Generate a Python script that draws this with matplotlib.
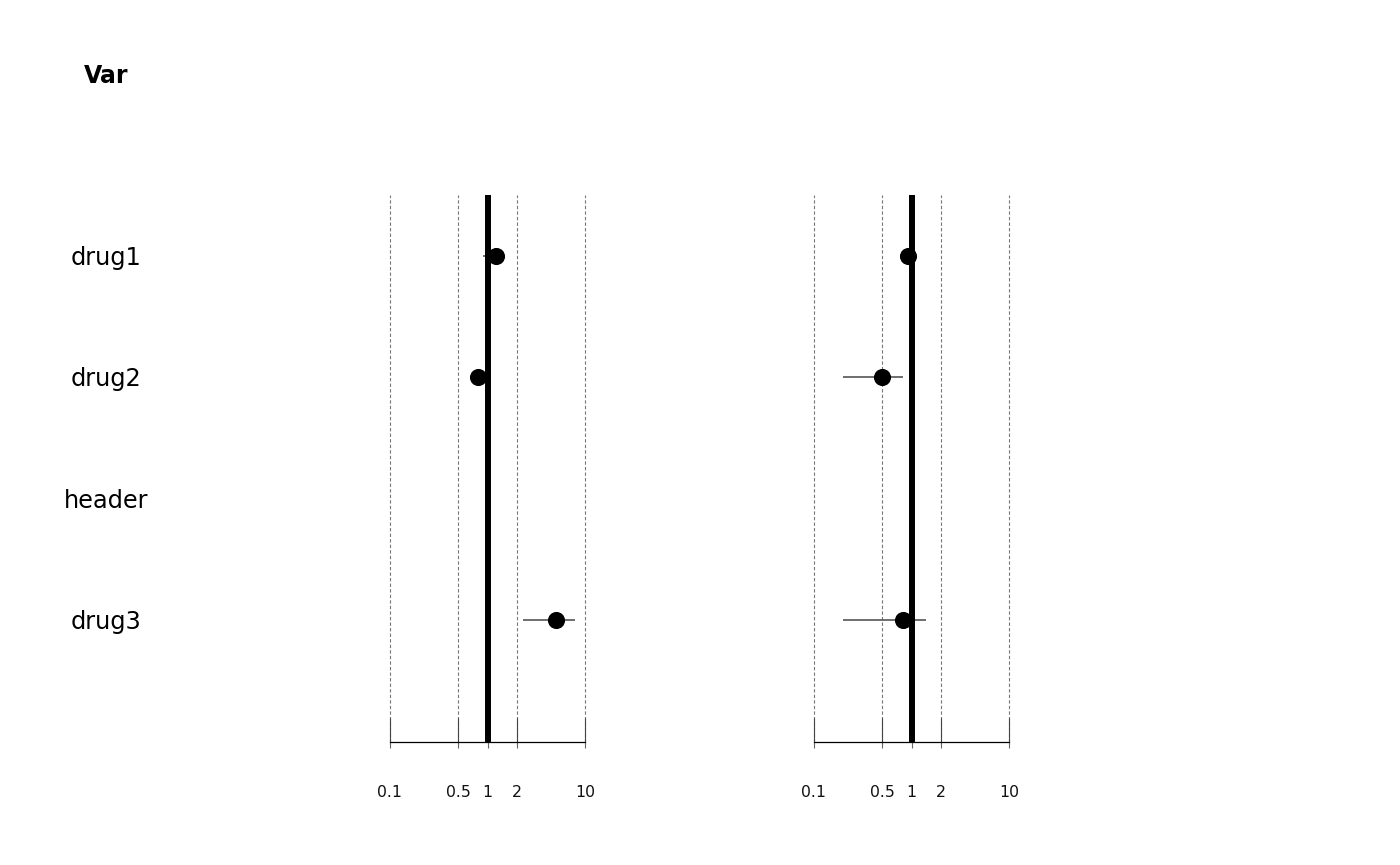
import matplotlib
matplotlib.use("Agg")
import matplotlib.pyplot as plt
import matplotlib.transforms as mtransforms
import numpy as np

# forest plot data
labels = ["drug1", "drug2", "header", "drug3"]
header = "Var"

est_left = [1.21, 0.80, np.nan, 5.04]
lo_left = [0.90, 0.74, np.nan, 2.33]
hi_left = [1.49, 0.88, np.nan, 7.84]

est_right = [0.91, 0.50, np.nan, 0.81]
lo_right = [0.86, 0.20, np.nan, 0.20]
hi_right = [1.04, 0.81, np.nan, 1.42]

xticks = [0.1, 0.5, 1, 2, 10]
xtick_labels = ["0.1", "0.5", "1", "2", "10"]
ref_value = 1

W, H = 1400, 865
fig = plt.figure(figsize=(W / 100, H / 100), dpi=100)


def px_axes(left, top, right, bottom):
    return fig.add_axes([left / W, 1 - bottom / H, (right - left) / W, (bottom - top) / H])


def draw_panel(ax, est, lo, hi):
    rows = np.arange(len(est))
    ax.set_xscale("log")
    ax.set_xlim(0.1, 10)
    ax.set_ylim(len(est), -0.5)
    for t in xticks:
        ax.axvline(t, color="#777777", lw=0.8, ls=(0, (3, 2)), zorder=1, clip_on=False)
    ax.hlines(rows, lo, hi, color="#555555", lw=1.2, zorder=2)
    ax.plot(est, rows, "o", color="black", ms=11.3, zorder=3)
    ax.axvline(ref_value, color="black", lw=4.3, zorder=4)

    for s in ["top", "left", "right"]:
        ax.spines[s].set_visible(False)
    ax.spines["bottom"].set_linewidth(0.9)
    ax.set_yticks([])
    ax.xaxis.remove_overlapping_locs = False
    ax.set_xticks(xticks)
    ax.set_xticklabels(xtick_labels)
    ax.set_xticks(xticks, minor=True)
    ax.tick_params(axis="x", which="major", direction="in", length=17, width=0.8,
                   color="#444444", pad=31, labelsize=11.3, labelcolor="#111111")
    ax.tick_params(axis="x", which="minor", direction="out", length=4.3, width=0.8,
                   color="#666666", labelbottom=False)


ax1 = px_axes(390, 195, 585, 742)
ax2 = px_axes(814, 195, 1009, 742)
draw_panel(ax1, est_left, lo_left, hi_left)
draw_panel(ax2, est_right, lo_right, hi_right)

# row labels, placed at figure x and panel-data y
trans = mtransforms.blended_transform_factory(fig.transFigure, ax1.transData)
for i, lab in enumerate(labels):
    ax1.text(106 / W, i + 0.015, lab, transform=trans, ha="center", va="center",
             fontsize=17.3, clip_on=False)
ax1.text(106 / W, -1.475, header, transform=trans, ha="center", va="center",
         fontsize=17, fontweight="bold", clip_on=False)

fig.savefig("out.png", dpi=100)
